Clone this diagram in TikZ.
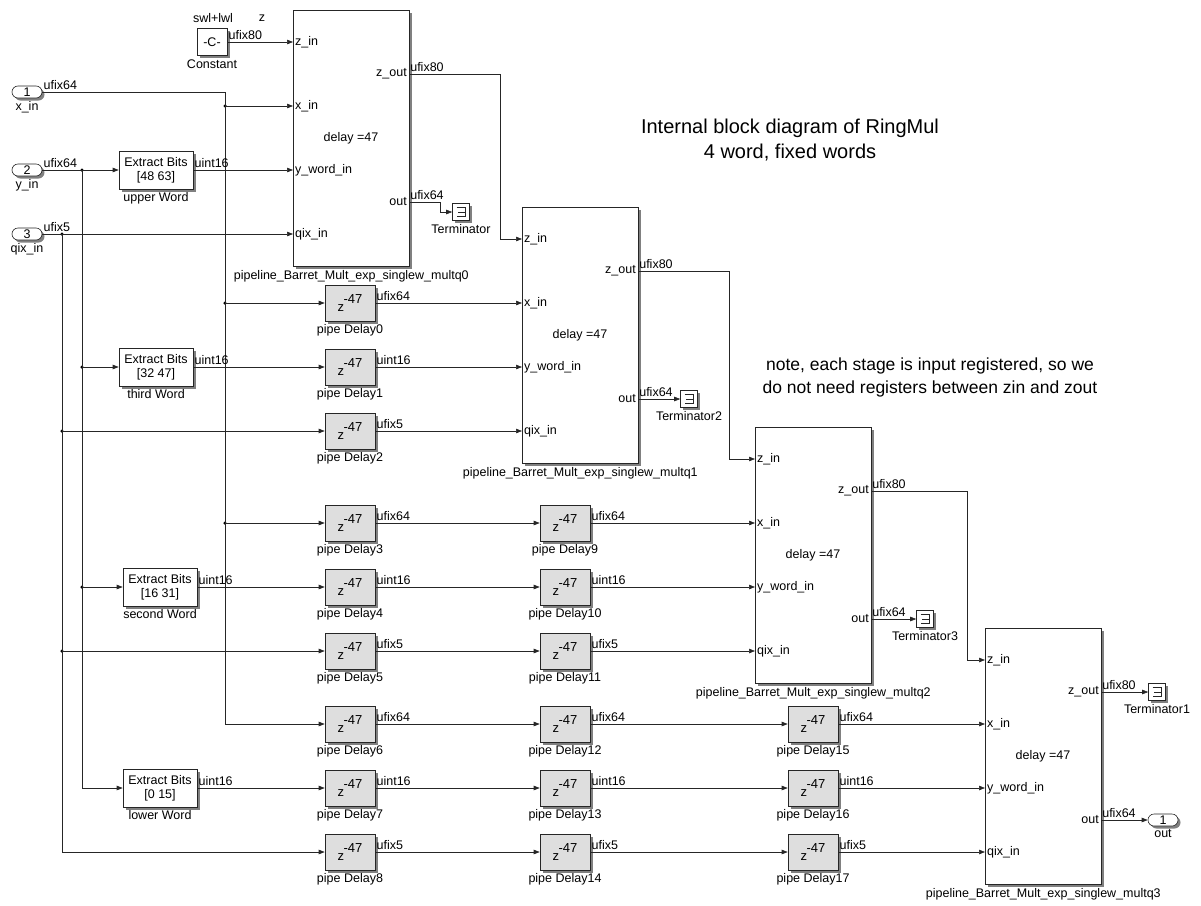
\documentclass[tikz,border=0pt]{standalone}
\usepackage{fontspec}
\setmainfont{Liberation Sans}
\usetikzlibrary{arrows.meta,positioning,shadows,shapes.misc}

\tikzset{
  every node/.style={font=\fontsize{12.5}{14}\selectfont},
  blk/.style={draw=black!85, fill=white, line width=0.6pt,
    general shadow={fill=black!50, shadow xshift=2.5pt, shadow yshift=-2.5pt}},
  subsys/.style={blk, anchor=north west, minimum width=116pt, minimum height=256pt, inner sep=0pt},
  dly/.style={blk, fill=black!13, minimum width=50pt, minimum height=36pt, inner sep=0pt},
  xbits/.style={blk, minimum width=74pt, minimum height=38pt, inner sep=0pt, align=center},
  io/.style={blk, rounded rectangle, minimum width=30pt, minimum height=12pt, inner sep=0pt},
  term/.style={blk, minimum size=17pt, inner sep=0pt,
    path picture={
      \draw[line width=0.6pt]
        ([shift={(-4.5pt,4.5pt)}]path picture bounding box.center) -- ++(9pt,0pt)
          -- ++(0pt,-9pt) -- ++(-9pt,0pt)
        ([shift={(-3pt,0pt)}]path picture bounding box.center) -- ++(7.5pt,0pt);
    }},
  port/.style={inner sep=2pt},
  sig/.style={pos=0, anchor=south west, inner xsep=1pt, inner ysep=2.5pt},
  dot/.style={circle, fill=black, inner sep=0pt, minimum size=3.5pt},
  wire/.style={draw=black!85, line width=0.6pt, -{Triangle[length=6pt,width=4.5pt]}},
}

% delay block text
\newcommand\zdel{\fontsize{13}{14}\selectfont\raisebox{-3pt}{z}\kern-0.5pt\raisebox{5pt}{-47}}

% pipeline subsystem: name, left, top, index
\newcommand\multq[4]{%
  \node[subsys, label=below:pipeline\_Barret\_Mult\_exp\_singlew\_multq#4] (#1) at (#2,#3) {};
  \node[port, anchor=west] (#1zin) at (#2,#3+32) {z\_in};
  \node[port, anchor=west] (#1xin) at (#2,#3+96) {x\_in};
  \node[port, anchor=west] (#1yw) at (#2,#3+160) {y\_word\_in};
  \node[port, anchor=west] (#1qix) at (#2,#3+224) {qix\_in};
  \node[port, anchor=east] (#1zout) at (#2+116,#3+64) {z\_out};
  \node[port, anchor=east] (#1out) at (#2+116,#3+192) {out};
  \node (#1dly) at (#2+58,#3+128) {delay =47};
}

\begin{document}
\begin{tikzpicture}[x=1pt, y=-1pt]
  \useasboundingbox (0,0) rectangle (1201,905);

  % inputs and constant
  \node[io, label=below:x\_in] (in1) at (27,92) {1};
  \node[io, label=below:y\_in] (in2) at (27,170) {2};
  \node[io, label=below:qix\_in] (in3) at (27,234) {3};
  \node[blk, minimum width=30pt, minimum height=27pt, inner sep=0pt,
    label=below:Constant] (cst) at (212,42) {-C-};
  \node (cstval) at (213,18) {swl+lwl};
  \node (csttype) at (262,18) {z};

  % word extraction
  \node[xbits, label=below:upper Word] (ub) at (156,170) {Extract Bits\\{[48 63]}};
  \node[xbits, label=below:third Word] (tw) at (156,367) {Extract Bits\\{[32 47]}};
  \node[xbits, label=below:second Word] (sw) at (160,587) {Extract Bits\\{[16 31]}};
  \node[xbits, label=below:lower Word] (lw) at (160,788) {Extract Bits\\{[0 15]}};

  % pipeline stages
  \multq{q0}{293}{10}{0}
  \multq{q1}{522}{207}{1}
  \multq{q2}{755}{427}{2}
  \multq{q3}{985}{628}{3}

  % pipe delays
  \foreach \n/\x/\y in {0/350/303, 1/350/367, 2/350/431,
                        3/350/523, 4/350/587, 5/350/651,
                        6/350/724, 7/350/788, 8/350/852,
                        9/565/523, 10/565/587, 11/565/651,
                        12/565/724, 13/565/788, 14/565/852,
                        15/813/724, 16/813/788, 17/813/852}
    \node[dly, label=below:pipe Delay\n] (d\n) at (\x,\y) {\zdel};

  % terminators and output
  \node[term, label=below:Terminator] (t0) at (461,212) {};
  \node[term, label=below:Terminator2] (t2) at (689,399) {};
  \node[term, label=below:Terminator3] (t3) at (925,619) {};
  \node[term, label=below:Terminator1] (t1) at (1157,692) {};
  \node[io, label=below:out] (outp) at (1163,820) {1};

  % branch points
  \node[dot] (jx1) at (225,106) {};
  \node[dot] (jx2) at (225,303) {};
  \node[dot] (jx3) at (225,523) {};
  \node[dot] (jy1) at (82,170) {};
  \node[dot] (jy2) at (82,367) {};
  \node[dot] (jy3) at (82,587) {};
  \node[dot] (jq1) at (62,234) {};
  \node[dot] (jq2) at (62,431) {};
  \node[dot] (jq3) at (62,651) {};

  % notes
  \node[font=\fontsize{20}{25}\selectfont, align=center] (title) at (790,140)
    {Internal block diagram of RingMul\\4 word, fixed words};
  \node[font=\fontsize{17.5}{23}\selectfont, align=center] (note) at (930,377)
    {note, each stage is input registered, so we\\do not need registers between zin and zout};

  % x path
  \draw[wire] (in1.east) -- node[sig]{ufix64} (225,92) |- (d6.west);
  \draw[wire] (jx1.center) -- (q0xin.west);
  \draw[wire] (jx2.center) -- (d0.west);
  \draw[wire] (jx3.center) -- (d3.west);

  % y path
  \draw[wire] (in2.east) -- node[sig]{ufix64} (ub.west);
  \draw[wire] (jy1.center) |- (lw.west);
  \draw[wire] (jy2.center) -- (tw.west);
  \draw[wire] (jy3.center) -- (sw.west);

  % qix path
  \draw[wire] (in3.east) -- node[sig]{ufix5} (q0qix.west);
  \draw[wire] (jq1.center) |- (d8.west);
  \draw[wire] (jq2.center) -- (d2.west);
  \draw[wire] (jq3.center) -- (d5.west);

  % words and delay chains
  \foreach \a/\b/\t in {ub/q0yw/uint16, tw/d1/uint16, sw/d4/uint16, lw/d7/uint16,
                        d0/q1xin/ufix64, d1/q1yw/uint16, d2/q1qix/ufix5,
                        d3/d9/ufix64, d4/d10/uint16, d5/d11/ufix5,
                        d9/q2xin/ufix64, d10/q2yw/uint16, d11/q2qix/ufix5,
                        d6/d12/ufix64, d7/d13/uint16, d8/d14/ufix5,
                        d12/d15/ufix64, d13/d16/uint16, d14/d17/ufix5,
                        d15/q3xin/ufix64, d16/q3yw/uint16, d17/q3qix/ufix5}
    \draw[wire] (\a.east) -- node[sig]{\t} (\b.west);

  % z chain
  \draw[wire] (cst.east) -- node[sig]{ufix80} (q0zin.west);
  \draw[wire] (q0zout.east) -- node[sig]{ufix80} ++(91,0) |- (q1zin.west);
  \draw[wire] (q1zout.east) -- node[sig]{ufix80} ++(91,0) |- (q2zin.west);
  \draw[wire] (q2zout.east) -- node[sig]{ufix80} ++(96,0) |- (q3zin.west);
  \draw[wire] (q3zout.east) -- node[sig]{ufix80} (t1.west);

  % outputs
  \draw[wire] (q0out.east) -- node[sig]{ufix64} ++(31,0) |- (t0.west);
  \draw[wire] (q1out.east) -- node[sig]{ufix64} (t2.west);
  \draw[wire] (q2out.east) -- node[sig]{ufix64} (t3.west);
  \draw[wire] (q3out.east) -- node[sig]{ufix64} (outp.west);
\end{tikzpicture}
\end{document}
